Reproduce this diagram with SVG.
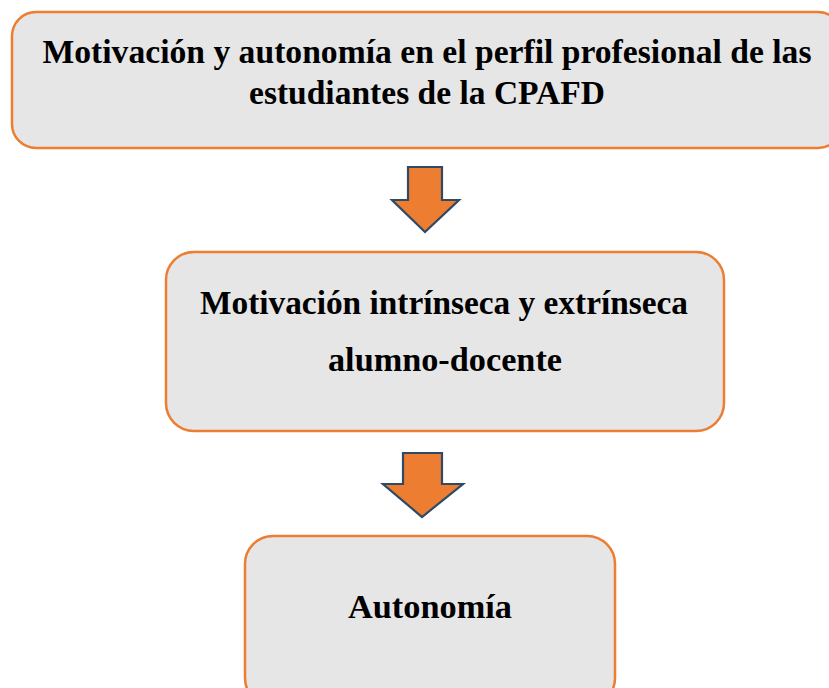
<svg xmlns="http://www.w3.org/2000/svg" width="829" height="688" viewBox="0 0 829 688">
<style>
.box{fill:#E6E6E6;stroke:#ED7D31;stroke-width:2.5}
.arr{fill:#ED7D31;stroke:#2E4A66;stroke-width:2.2;stroke-linejoin:miter}
.t{font-family:"Liberation Serif","Times New Roman",serif;font-weight:bold;font-size:33px;fill:#000;text-anchor:middle}
</style>
<rect width="829" height="688" fill="#fff"/>
<g id="node1">
<rect class="box" x="12" y="12" width="830" height="136" rx="24"/>
<text class="t" x="427" y="63" textLength="769" lengthAdjust="spacingAndGlyphs">Motivación y autonomía en el perfil profesional de las</text>
<text class="t" x="427" y="104" textLength="356" lengthAdjust="spacingAndGlyphs">estudiantes de la CPAFD</text>
</g>
<g id="node2">
<rect class="box" x="166" y="252" width="558" height="179" rx="28"/>
<text class="t" x="444" y="314" textLength="488" lengthAdjust="spacingAndGlyphs">Motivación intrínseca y extrínseca</text>
<text class="t" x="445" y="371" textLength="234" lengthAdjust="spacingAndGlyphs">alumno-docente</text>
</g>
<g id="node3">
<rect class="box" x="245" y="536" width="370" height="170" rx="28"/>
<text class="t" x="430" y="618" textLength="164" lengthAdjust="spacingAndGlyphs">Autonomía</text>
</g>
<g id="connectors">
<polygon class="arr" points="408,167 442,167 442,200 459,200 425,232 392,200 408,200"/>
<polygon class="arr" points="403,453 442,453 442,484 463,484 422,517 383,484 403,484"/>
</g>
</svg>
